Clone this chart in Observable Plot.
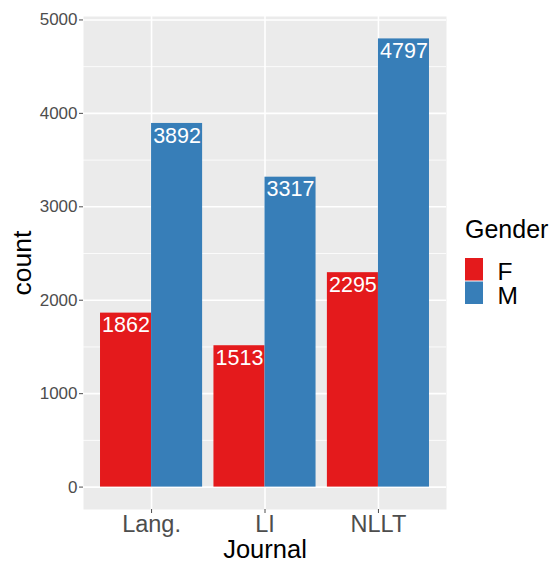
<!DOCTYPE html>
<html>
<head>
<meta charset="utf-8">
<script src="https://cdn.jsdelivr.net/npm/d3@7"></script>
<script src="https://cdn.jsdelivr.net/npm/@observablehq/plot@0.6"></script>
<style>
  html, body { margin: 0; padding: 0; background: white; }
  #wrap { position: relative; width: 556px; height: 563px; }
  #wrap svg { position: absolute; left: 0; top: 0; }
</style>
</head>
<body>
<div id="wrap"></div>
<script>
const journals = ["Lang.", "LI", "NLLT"];
const genders = ["F", "M"];
const countsF = [1862, 1513, 2295];
const countsM = [3892, 3317, 4797];
const colors = ["#E41A1C", "#377EB8"];
const yTicks = [0, 1000, 2000, 3000, 4000, 5000];
const yMinor = [500, 1500, 2500, 3500, 4500];
const xTitle = "Journal";
const yTitle = "count";
const legendTitle = "Gender";

const FONT = "'Liberation Sans', Arial, Helvetica, sans-serif";

const data = journals.flatMap((j, i) => [
  {journal: j, idx: i + 1, gender: "F", count: countsF[i]},
  {journal: j, idx: i + 1, gender: "M", count: countsM[i]}
]);
const barW = 0.45;
const x1 = d => d.idx - barW + genders.indexOf(d.gender) * barW;
const x2 = d => x1(d) + barW;
const xm = d => x1(d) + barW / 2;

const maxC = d3.max(data, d => d.count);
const yDomain = [-0.05 * maxC, 1.05 * maxC];

const plot = Plot.plot({
  width: 556,
  height: 563,
  marginLeft: 83,
  marginRight: 110,
  marginTop: 16,
  marginBottom: 54,
  x: {type: "linear", domain: [0.4, journals.length + 0.6], axis: null},
  y: {domain: yDomain, axis: null},
  color: {domain: genders, range: colors},
  style: {fontFamily: FONT, background: "white", overflow: "visible"},
  marks: [
    Plot.frame({fill: "#EBEBEB", stroke: "none"}),
    Plot.gridY(yMinor, {stroke: "white", strokeOpacity: 1, strokeWidth: 0.8}),
    Plot.gridY(yTicks, {stroke: "white", strokeOpacity: 1, strokeWidth: 1.6}),
    Plot.gridX(journals.map((j, i) => i + 1), {stroke: "white", strokeOpacity: 1, strokeWidth: 1.6}),
    Plot.rectY(data, {x1, x2, y: "count", fill: "gender"}),
    Plot.text(data, {x: xm, y: "count", text: d => String(d.count), fill: "white",
      fontSize: 21.5, lineAnchor: "top", dy: 4, textAnchor: "middle"}),
    Plot.axisY(yTicks, {tickSize: 4, tickPadding: 2, fontSize: 17, color: "#4D4D4D",
      tickFormat: d => String(d), label: null}),
    Plot.axisX(journals.map((j, i) => i + 1), {tickSize: 4, tickPadding: 1.5, fontSize: 23.5, color: "#4D4D4D",
      tickFormat: i => journals[i - 1], label: null}),
    Plot.text([yTitle], {frameAnchor: "left", rotate: -90, dx: -53, fontSize: 26.5,
      lineAnchor: "bottom", textAnchor: "middle", fill: "black", text: d => d}),
    Plot.text([xTitle], {frameAnchor: "bottom", dy: 48.5, fontSize: 25.5,
      lineAnchor: "bottom", textAnchor: "middle", fill: "black", text: d => d})
  ]
});
document.getElementById("wrap").appendChild(plot);

// Legend
const leg = d3.select("#wrap").append("svg")
  .attr("width", 556).attr("height", 563)
  .style("pointer-events", "none")
  .style("font-family", FONT);
leg.append("text").attr("x", 465).attr("y", 238).attr("font-size", 25)
  .attr("fill", "black").text(legendTitle);
genders.forEach((g, i) => {
  const top = 258 + i * 23.5;
  leg.append("rect").attr("x", 465).attr("y", top).attr("width", 18).attr("height", 22.5)
    .attr("fill", colors[i]);
  leg.append("text").attr("x", 497.5).attr("y", top + 22).attr("font-size", 24.5)
    .attr("fill", "black").text(g);
});
</script>
</body>
</html>
